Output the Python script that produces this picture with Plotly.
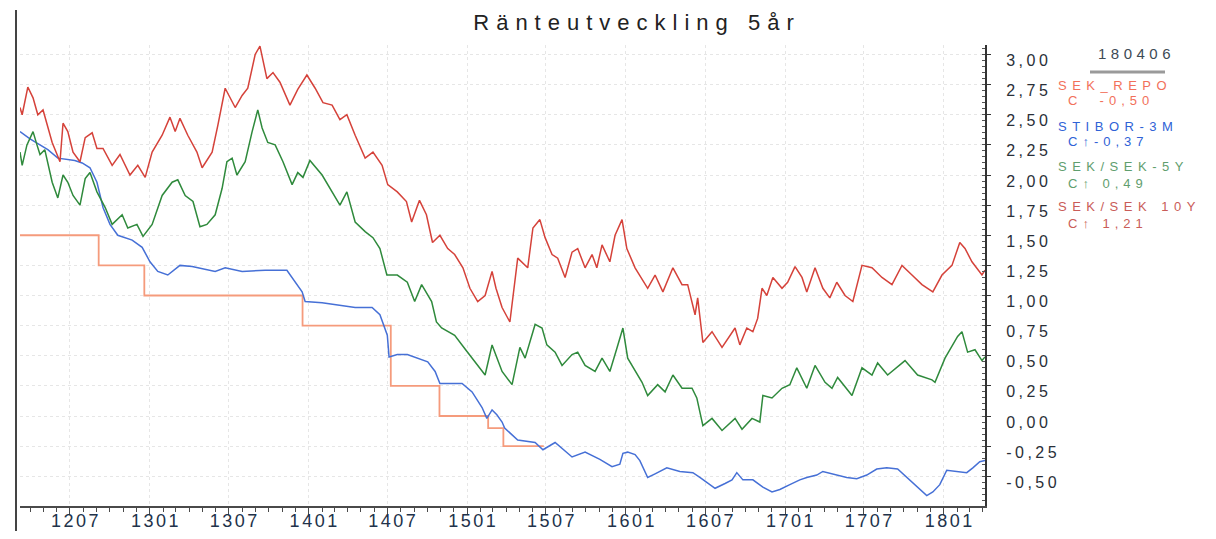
import plotly.graph_objects as go

# ---------------- data ----------------
repo_dates = ["2012-03-08", "2012-09-05", "2012-12-19", "2013-12-18", "2014-07-09",
              "2014-10-29", "2015-02-18", "2015-03-25", "2015-06-26"]
repo_vals = [1.50, 1.25, 1.00, 0.75, 0.25, 0.00, -0.10, -0.25, -0.25]

stibor_dates = ["2012-03-08", "2012-03-31", "2012-05-11", "2012-06-03", "2012-07-12", "2012-07-29",
                "2012-08-16", "2012-09-01", "2012-09-15", "2012-10-01", "2012-10-19", "2012-11-21",
                "2012-12-14", "2013-01-01", "2013-01-19", "2013-02-11", "2013-03-11", "2013-04-08",
                "2013-05-31", "2013-06-23", "2013-08-01", "2013-09-23", "2013-11-12", "2013-12-01",
                "2013-12-17", "2013-12-24", "2014-02-01", "2014-04-18", "2014-05-27", "2014-06-14",
                "2014-07-01", "2014-07-05", "2014-07-24", "2014-08-16", "2014-10-02", "2014-10-19",
                "2014-10-30", "2014-12-20", "2015-01-12", "2015-02-04", "2015-02-15", "2015-02-27",
                "2015-03-10", "2015-03-22", "2015-03-28", "2015-04-27", "2015-06-06", "2015-06-24",
                "2015-07-22", "2015-08-30", "2015-09-29", "2015-11-02", "2015-11-30", "2015-12-18",
                "2015-12-25", "2016-01-05", "2016-01-22", "2016-02-02", "2016-02-20", "2016-03-08",
                "2016-04-04", "2016-05-04", "2016-06-03", "2016-06-19", "2016-07-05", "2016-07-24",
                "2016-08-16", "2016-09-01", "2016-09-12", "2016-09-26", "2016-10-19", "2016-11-11",
                "2016-12-02", "2016-12-20", "2017-01-12", "2017-02-04", "2017-02-20", "2017-03-15",
                "2017-03-29", "2017-04-21", "2017-05-23", "2017-06-15", "2017-07-08", "2017-07-31",
                "2017-08-23", "2017-09-17", "2017-10-08", "2017-10-31", "2017-11-23", "2017-12-07",
                "2017-12-23", "2018-01-08", "2018-01-31", "2018-02-23", "2018-03-09", "2018-03-25",
                "2018-04-06"]
stibor_vals = [2.36, 2.30, 2.21, 2.14, 2.12, 2.10,
               2.06, 1.94, 1.73, 1.59, 1.50, 1.46,
               1.40, 1.28, 1.20, 1.17, 1.25, 1.24,
               1.20, 1.23, 1.20, 1.21, 1.21, 1.11,
               1.03, 0.95, 0.94, 0.90, 0.90, 0.84,
               0.67, 0.49, 0.51, 0.51, 0.45, 0.37,
               0.27, 0.27, 0.20, 0.07, -0.02, 0.05,
               0.01, -0.05, -0.10, -0.20, -0.22, -0.28,
               -0.22, -0.34, -0.30, -0.36, -0.42, -0.40,
               -0.31, -0.30, -0.32, -0.37, -0.51, -0.48,
               -0.43, -0.46, -0.47, -0.51, -0.55, -0.60,
               -0.56, -0.53, -0.47, -0.53, -0.53, -0.59,
               -0.63, -0.61, -0.57, -0.53, -0.51, -0.49,
               -0.46, -0.48, -0.51, -0.52, -0.49, -0.44,
               -0.43, -0.44, -0.51, -0.59, -0.66, -0.63,
               -0.57, -0.45, -0.46, -0.47, -0.43, -0.38,
               -0.37]

swap5_dates = ["2012-03-08", "2012-03-13", "2012-03-24", "2012-04-07", "2012-04-16", "2012-04-23",
               "2012-05-04", "2012-05-21", "2012-06-03", "2012-06-15", "2012-06-26", "2012-07-08",
               "2012-07-24", "2012-08-05", "2012-08-16", "2012-09-01", "2012-09-20", "2012-10-06",
               "2012-10-29", "2012-11-11", "2012-12-02", "2012-12-16", "2013-01-06", "2013-01-29",
               "2013-02-21", "2013-03-06", "2013-03-23", "2013-04-10", "2013-04-26", "2013-05-12",
               "2013-05-31", "2013-06-16", "2013-06-27", "2013-07-09", "2013-07-20", "2013-08-08",
               "2013-08-24", "2013-09-06", "2013-09-16", "2013-09-29", "2013-10-16", "2013-11-03",
               "2013-11-24", "2013-12-07", "2013-12-19", "2014-01-04", "2014-02-01", "2014-02-24",
               "2014-03-14", "2014-03-30", "2014-04-18", "2014-05-11", "2014-05-29", "2014-06-14",
               "2014-06-30", "2014-07-24", "2014-08-16", "2014-09-02", "2014-09-18", "2014-10-11",
               "2014-10-22", "2014-11-03", "2014-12-03", "2014-12-26", "2015-01-19", "2015-02-11",
               "2015-02-27", "2015-03-08", "2015-03-22", "2015-04-14", "2015-05-02", "2015-05-14",
               "2015-06-06", "2015-06-22", "2015-07-03", "2015-07-22", "2015-08-07", "2015-08-30",
               "2015-09-12", "2015-09-29", "2015-10-22", "2015-11-07", "2015-11-25", "2015-12-11",
               "2015-12-25", "2016-01-05", "2016-02-07", "2016-02-20", "2016-03-14", "2016-03-31",
               "2016-04-18", "2016-05-09", "2016-06-01", "2016-06-12", "2016-06-26", "2016-07-17",
               "2016-08-09", "2016-09-08", "2016-09-24", "2016-10-17", "2016-11-04", "2016-11-11",
               "2016-12-02", "2016-12-25", "2017-01-12", "2017-01-28", "2017-02-20", "2017-03-11",
               "2017-04-03", "2017-04-19", "2017-05-02", "2017-06-04", "2017-06-27", "2017-07-20",
               "2017-08-02", "2017-08-25", "2017-10-04", "2017-11-02", "2017-12-05", "2017-12-12",
               "2018-01-04", "2018-02-02", "2018-02-12", "2018-02-25", "2018-03-14", "2018-03-30",
               "2018-04-06"]
swap5_vals = [2.19, 2.08, 2.25, 2.36, 2.25, 2.17,
              2.21, 1.94, 1.81, 2.00, 1.94, 1.83,
              1.75, 1.97, 2.02, 1.86, 1.73, 1.59,
              1.67, 1.56, 1.59, 1.49, 1.59, 1.83,
              1.94, 1.96, 1.83, 1.78, 1.57, 1.59,
              1.67, 1.89, 2.11, 2.14, 2.00, 2.11,
              2.36, 2.54, 2.39, 2.27, 2.25, 2.11,
              1.92, 2.02, 1.98, 2.12, 2.00, 1.86,
              1.75, 1.86, 1.61, 1.53, 1.48, 1.39,
              1.17, 1.17, 1.11, 0.95, 1.09, 0.95,
              0.78, 0.73, 0.67, 0.56, 0.45, 0.34,
              0.59, 0.50, 0.37, 0.26, 0.57, 0.48,
              0.76, 0.73, 0.59, 0.53, 0.42, 0.51,
              0.53, 0.42, 0.37, 0.48, 0.37, 0.56,
              0.73, 0.48, 0.28, 0.17, 0.26, 0.20,
              0.34, 0.23, 0.23, 0.15, -0.08, -0.02,
              -0.12, -0.02, -0.11, -0.02, -0.05, 0.17,
              0.15, 0.23, 0.26, 0.40, 0.23, 0.42,
              0.28, 0.23, 0.32, 0.17, 0.40, 0.34,
              0.44, 0.34, 0.46, 0.34, 0.30, 0.28,
              0.48, 0.66, 0.70, 0.53, 0.55, 0.46,
              0.49]

swap10_dates = ["2012-03-08", "2012-03-13", "2012-03-26", "2012-04-07", "2012-04-18", "2012-04-30",
                "2012-05-21", "2012-06-01", "2012-06-08", "2012-06-15", "2012-06-26", "2012-07-08",
                "2012-07-24", "2012-08-05", "2012-08-21", "2012-09-01", "2012-09-15", "2012-10-06",
                "2012-10-24", "2012-11-16", "2012-12-04", "2012-12-21", "2013-01-06", "2013-01-29",
                "2013-02-16", "2013-02-28", "2013-03-11", "2013-03-29", "2013-04-19", "2013-05-01",
                "2013-05-24", "2013-06-06", "2013-06-23", "2013-07-16", "2013-08-01", "2013-08-14",
                "2013-08-31", "2013-09-11", "2013-09-18", "2013-09-27", "2013-10-11", "2013-10-27",
                "2013-11-19", "2013-12-07", "2013-12-28", "2014-01-16", "2014-02-03", "2014-02-24",
                "2014-03-14", "2014-03-30", "2014-04-18", "2014-05-11", "2014-05-29", "2014-06-19",
                "2014-07-02", "2014-07-24", "2014-08-14", "2014-08-26", "2014-09-13", "2014-09-29",
                "2014-10-13", "2014-10-30", "2014-11-17", "2014-12-03", "2014-12-22", "2015-01-07",
                "2015-01-25", "2015-02-11", "2015-02-27", "2015-03-08", "2015-03-22", "2015-04-09",
                "2015-04-27", "2015-05-20", "2015-06-01", "2015-06-17", "2015-06-29", "2015-07-15",
                "2015-07-28", "2015-08-14", "2015-08-30", "2015-09-12", "2015-09-29", "2015-10-15",
                "2015-10-26", "2015-11-07", "2015-11-25", "2015-12-07", "2015-12-23", "2016-01-03",
                "2016-01-22", "2016-02-20", "2016-03-08", "2016-03-26", "2016-04-18", "2016-05-09",
                "2016-05-22", "2016-06-08", "2016-06-14", "2016-06-26", "2016-07-17", "2016-08-09",
                "2016-09-08", "2016-09-19", "2016-10-05", "2016-10-19", "2016-10-30", "2016-11-09",
                "2016-11-20", "2016-12-04", "2016-12-25", "2017-01-07", "2017-01-24", "2017-02-09",
                "2017-02-20", "2017-03-11", "2017-03-29", "2017-04-14", "2017-04-30", "2017-05-19",
                "2017-06-06", "2017-06-22", "2017-06-27", "2017-07-20", "2017-08-12", "2017-09-04",
                "2017-09-27", "2017-10-20", "2017-11-12", "2017-12-07", "2017-12-28", "2018-01-20",
                "2018-02-07", "2018-02-19", "2018-03-07", "2018-03-30", "2018-04-06"]
swap10_vals = [2.56, 2.50, 2.73, 2.64, 2.50, 2.54,
               2.27, 2.17, 2.11, 2.43, 2.36, 2.19,
               2.11, 2.31, 2.35, 2.22, 2.22, 2.08,
               2.17, 2.00, 2.08, 1.98, 2.19, 2.33,
               2.48, 2.36, 2.47, 2.33, 2.19, 2.06,
               2.19, 2.41, 2.72, 2.56, 2.66, 2.72,
               3.00, 3.07, 2.95, 2.80, 2.85, 2.77,
               2.58, 2.71, 2.83, 2.72, 2.60, 2.58,
               2.46, 2.50, 2.33, 2.14, 2.19, 2.08,
               1.92, 1.86, 1.78, 1.61, 1.79, 1.67,
               1.44, 1.50, 1.39, 1.34, 1.23, 1.06,
               0.95, 1.00, 1.20, 1.06, 0.90, 0.78,
               1.31, 1.23, 1.56, 1.63, 1.48, 1.34,
               1.31, 1.15, 1.36, 1.39, 1.23, 1.34,
               1.23, 1.42, 1.28, 1.50, 1.63, 1.39,
               1.23, 1.06, 1.17, 1.03, 1.23, 1.09,
               1.09, 0.84, 0.98, 0.61, 0.70, 0.57,
               0.73, 0.59, 0.73, 0.70, 0.81, 1.06,
               1.00, 1.15, 1.06, 1.11, 1.24, 1.15,
               1.03, 1.23, 1.06, 0.98, 1.11, 1.00,
               0.95, 1.17, 1.25, 1.23, 1.15, 1.09,
               1.25, 1.17, 1.09, 1.03, 1.17, 1.25,
               1.44, 1.39, 1.28, 1.17, 1.21]

x_tick_dates = ["2012-07-01", "2013-01-01", "2013-07-01", "2014-01-01", "2014-07-01", "2015-01-01",
                "2015-07-01", "2016-01-01", "2016-07-01", "2017-01-01", "2017-07-01", "2018-01-01"]
x_tick_labels = ["1207", "1301", "1307", "1401", "1407", "1501",
                 "1507", "1601", "1607", "1701", "1707", "1801"]
y_tick_vals = [-0.50, -0.25, 0.00, 0.25, 0.50, 0.75, 1.00, 1.25, 1.50, 1.75, 2.00, 2.25, 2.50, 2.75, 3.00]
y_tick_labels = ["-0,50", "-0,25", "0,00", "0,25", "0,50", "0,75", "1,00", "1,25", "1,50",
                 "1,75", "2,00", "2,25", "2,50", "2,75", "3,00"]

title_text = "Ränteutveckling 5år"
date_label = "180406"
legend_names = ["SEK_REPO", "STIBOR-3M", "SEK/SEK-5Y", "SEK/SEK 10Y"]
legend_last = ["C  -0,50", "C↑-0,37", "C↑ 0,49", "C↑ 1,21"]
legend_colors = ["#F2705A", "#2F62D6", "#5F9E6E", "#C95C58"]

# ---------------- layout helpers ----------------
# the page body has an 8px margin, so the figure is drawn 8px smaller/offset
OFF = 8
W, H = 1216 - 2 * OFF, 539 - 2 * OFF
L, R, T, B = 20, 985, 45, 506   # plot area in reference pixels


def px_x(p):
    return (p - L) / (R - L)


def px_y(p):
    return (B - p) / (B - T)


def spaced(t, s):
    return f'<span style="letter-spacing:{s}px">{t}</span>'


FONT = "Liberation Sans, Arial, sans-serif"

fig = go.Figure()
fig.add_trace(go.Scatter(x=repo_dates, y=repo_vals, mode="lines", line=dict(color="#F59B7C", width=1.8, shape="hv"),
                         name="SEK_REPO"))
fig.add_trace(go.Scatter(x=stibor_dates, y=stibor_vals, mode="lines", line=dict(color="#4670D6", width=1.5),
                         name="STIBOR-3M"))
fig.add_trace(go.Scatter(x=swap5_dates, y=swap5_vals, mode="lines", line=dict(color="#2F8A3C", width=1.5),
                         name="SEK/SEK-5Y"))
fig.add_trace(go.Scatter(x=swap10_dates, y=swap10_vals, mode="lines", line=dict(color="#D5423A", width=1.5),
                         name="SEK/SEK 10Y"))

fig.update_layout(
    template="none",
    width=W, height=H, autosize=False,
    margin=dict(l=L - OFF, r=W - (R - OFF), t=T - OFF, b=H - (B - OFF), pad=0, autoexpand=False),
    paper_bgcolor="white", plot_bgcolor="white",
    showlegend=False,
    separators=",.",
    title=dict(text=spaced(title_text, 7), x=px_x(637), xref="paper", xanchor="center",
               y=1 - (22 - OFF) / H, yref="container", yanchor="middle",
               font=dict(family=FONT, size=22, color="#222222")),
    xaxis=dict(type="date", range=["2012-03-08", "2018-04-06"], automargin=False,
               tickvals=x_tick_dates, ticktext=[spaced(t, 2.5) for t in x_tick_labels],
               ticklabelshift=6, ticklabelstandoff=-10,
               tickfont=dict(family=FONT, size=18, color="#22324A"),
               showline=True, linecolor="#4A4A4A", linewidth=2,
               ticks="outside", ticklen=7, tickwidth=1, tickcolor="#4A4A4A",
               minor=dict(ticks="outside", ticklen=4, tickcolor="#4A4A4A", dtick="M1", tick0="2012-07-01",
                          showgrid=False),
               showgrid=True, gridcolor="#E6E6E6", griddash="dot", gridwidth=1,
               zeroline=False, fixedrange=True),
    yaxis=dict(range=[(B - 416) / -120.5, (416 - T) / 120.5], side="right", automargin=False,
               tickvals=y_tick_vals, ticktext=[spaced(t, 3.5) for t in y_tick_labels],
               ticklabelshift=6, ticklabelstandoff=12,
               tickfont=dict(family=FONT, size=16, color="#2A2F38"),
               showline=True, linecolor="#333333", linewidth=2,
               ticks="outside", ticklen=4, tickcolor="#333333",
               minor=dict(ticks="inside", ticklen=3, dtick=0.05, tickcolor="#555555", showgrid=False),
               showgrid=True, gridcolor="#E6E6E6", griddash="dot", gridwidth=1,
               zeroline=False, fixedrange=True),
)

# left frame line
fig.add_shape(type="line", xref="paper", yref="paper", x0=px_x(16), x1=px_x(16), y0=px_y(531), y1=px_y(10),
              line=dict(color="#444444", width=2))
# underline below date label
fig.add_shape(type="line", xref="paper", yref="paper", x0=px_x(1090), x1=px_x(1165), y0=px_y(72), y1=px_y(72),
              line=dict(color="#9A9A9A", width=3))

fig.add_annotation(text=spaced(date_label, 4.5), x=px_x(1136), y=px_y(53), xref="paper", yref="paper",
                   xanchor="center", yanchor="middle", showarrow=False,
                   font=dict(family=FONT, size=15, color="#3D4A55"))

name_y = [86, 127, 166, 206]
last_y = [101, 141, 183, 223]
for nm, lv, col, ny, ly in zip(legend_names, legend_last, legend_colors, name_y, last_y):
    fig.add_annotation(text=spaced(nm, 5.5), x=px_x(1056), y=px_y(ny), xref="paper", yref="paper",
                       xanchor="left", yanchor="middle", showarrow=False,
                       font=dict(family=FONT, size=13, color=col))
    fig.add_annotation(text=spaced(lv, 5), x=px_x(1066), y=px_y(ly), xref="paper", yref="paper",
                       xanchor="left", yanchor="middle", showarrow=False,
                       font=dict(family=FONT, size=13, color=col))

fig.write_html("out.html")
